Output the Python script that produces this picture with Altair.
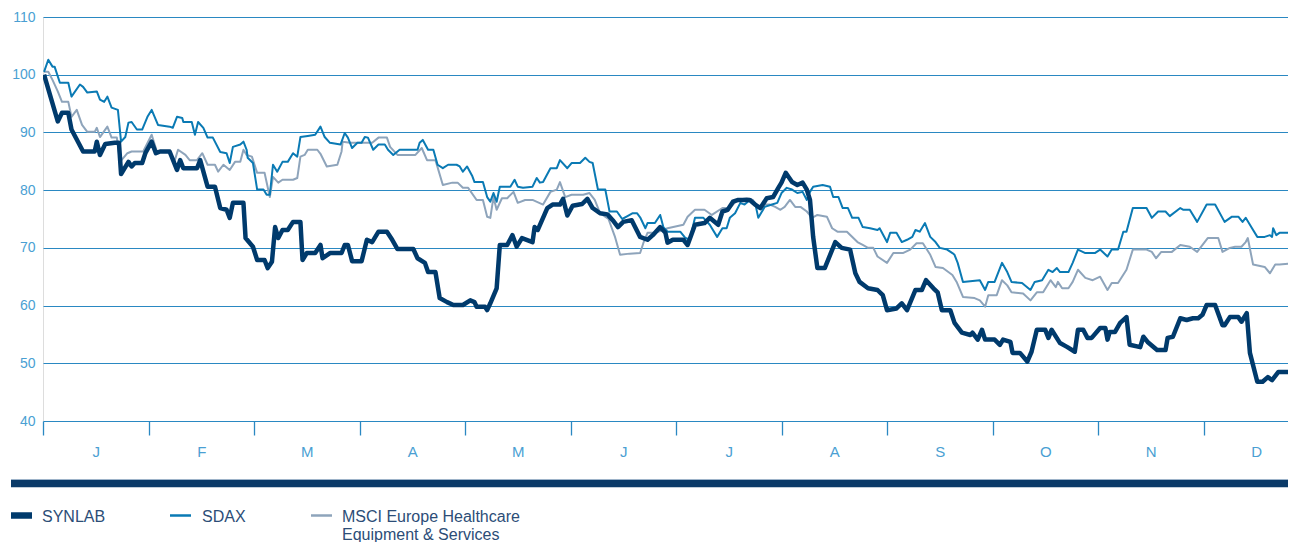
import altair as alt
import pandas as pd

# ---- data (x = position in months from 1 Jan, y = indexed value) ----
MONTHS = ["J", "F", "M", "A", "M", "J", "J", "A", "S", "O", "N", "D"]
SERIES = ["SYNLAB", "SDAX", "MSCI Europe Healthcare Equipment & Services"]

SYNLAB_T = [0.01, 0.14, 0.18, 0.24, 0.27, 0.38, 0.49, 0.51, 0.54, 0.59, 0.68, 0.72, 0.74, 0.81, 0.84, 0.87,
            0.94, 0.97, 1.03, 1.07, 1.11, 1.20, 1.27, 1.30, 1.33, 1.46, 1.49, 1.56, 1.63, 1.68, 1.74, 1.77,
            1.80, 1.90, 1.92, 1.99, 2.03, 2.10, 2.13, 2.17, 2.20, 2.23, 2.27, 2.32, 2.37, 2.44, 2.46, 2.50,
            2.58, 2.63, 2.65, 2.72, 2.83, 2.86, 2.89, 2.93, 3.02, 3.07, 3.12, 3.18, 3.26, 3.31, 3.36, 3.51,
            3.55, 3.62, 3.65, 3.72, 3.76, 3.83, 3.89, 3.98, 4.05, 4.09, 4.11, 4.19, 4.21, 4.24, 4.30, 4.33,
            4.40, 4.45, 4.49, 4.54, 4.64, 4.66, 4.69, 4.78, 4.83, 4.90, 4.93, 4.97, 5.02, 5.11, 5.16, 5.21,
            5.28, 5.35, 5.40, 5.45, 5.50, 5.58, 5.66, 5.73, 5.78, 5.85, 5.90, 5.92, 5.97, 6.07, 6.11, 6.18,
            6.27, 6.32, 6.40, 6.44, 6.49, 6.54, 6.59, 6.70, 6.75, 6.80, 6.86, 6.92, 6.97, 7.00, 7.04, 7.10,
            7.15, 7.20, 7.24, 7.27, 7.30, 7.34, 7.41, 7.51, 7.57, 7.65, 7.70, 7.74, 7.82, 7.91, 7.96, 8.00,
            8.09, 8.14, 8.19, 8.27, 8.33, 8.37, 8.44, 8.48, 8.52, 8.60, 8.64, 8.71, 8.79, 8.81, 8.86, 8.90,
            8.93, 9.02, 9.07, 9.10, 9.17, 9.19, 9.26, 9.33, 9.37, 9.42, 9.50, 9.53, 9.56, 9.64, 9.71, 9.78,
            9.81, 9.86, 9.90, 9.94, 10.02, 10.07, 10.09, 10.11, 10.16, 10.21, 10.27, 10.30, 10.40, 10.43,
            10.47, 10.56, 10.64, 10.66, 10.71, 10.78, 10.84, 10.90, 10.95, 10.99, 11.03, 11.11, 11.18,
            11.20, 11.25, 11.33, 11.36, 11.41, 11.44, 11.51, 11.56, 11.61, 11.65, 11.71, 11.85, 11.88]
SYNLAB_V = [100.0, 91.9, 93.4, 93.4, 90.5, 86.7, 86.7, 88.4, 86.1, 88.0, 88.2, 88.2, 82.8, 84.9, 84.1, 84.7,
            84.7, 86.4, 88.4, 86.4, 86.7, 86.7, 83.5, 85.2, 83.8, 83.8, 85.2, 80.6, 80.6, 76.9, 76.6, 75.2,
            77.8, 77.8, 71.7, 70.2, 67.9, 67.9, 66.5, 67.6, 73.6, 71.7, 73.1, 73.1, 74.5, 74.5, 67.9, 69.1,
            69.1, 70.5, 68.2, 69.1, 69.1, 70.5, 70.5, 67.7, 67.7, 71.4, 71.0, 72.8, 72.8, 71.4, 69.8, 69.8,
            68.2, 67.4, 65.8, 65.8, 61.3, 60.6, 60.1, 60.1, 60.9, 60.6, 59.8, 59.8, 59.2, 60.4, 63.0, 70.5,
            70.5, 72.2, 70.2, 71.7, 71.0, 73.6, 73.1, 76.9, 77.5, 77.5, 78.5, 75.6, 77.3, 77.6, 78.5, 76.9,
            76.0, 75.8, 74.8, 73.6, 74.5, 74.8, 71.9, 71.4, 72.2, 73.6, 72.6, 70.9, 71.4, 71.4, 70.5, 74.0,
            74.3, 75.2, 74.0, 76.3, 76.6, 78.0, 78.3, 78.3, 77.5, 76.9, 78.6, 78.8, 80.4, 81.3, 83.0, 81.4,
            80.9, 81.3, 80.1, 78.3, 71.9, 66.5, 66.5, 71.0, 70.0, 69.7, 65.6, 64.1, 63.0, 62.7, 61.8, 59.2,
            59.5, 60.4, 59.2, 62.7, 62.7, 64.4, 63.0, 62.3, 59.2, 59.2, 57.0, 55.3, 54.9, 55.3, 54.1, 55.8,
            54.1, 54.1, 53.2, 54.1, 53.7, 51.8, 51.8, 50.3, 52.0, 55.8, 55.8, 54.4, 55.8, 53.5, 52.8, 52.0,
            55.8, 55.8, 54.4, 54.4, 56.1, 56.1, 54.1, 55.4, 55.4, 57.0, 58.0, 53.2, 52.8, 54.6,
            53.7, 52.3, 52.3, 54.4, 54.6, 57.8, 57.5, 57.8, 57.8, 58.4, 60.1, 60.1, 56.6,
            56.6, 58.0, 58.0, 57.2, 58.7, 51.8, 46.8, 46.8, 47.6, 47.1, 48.5, 48.5, 47.6]

SDAX_T = [0.01, 0.05, 0.09, 0.11, 0.16, 0.24, 0.27, 0.35, 0.38, 0.42, 0.51, 0.54, 0.58, 0.61, 0.65, 0.71,
          0.74, 0.78, 0.81, 0.84, 0.89, 0.94, 0.99, 1.03, 1.09, 1.20, 1.23, 1.27, 1.32, 1.33, 1.41, 1.44,
          1.47, 1.52, 1.56, 1.61, 1.68, 1.74, 1.77, 1.80, 1.87, 1.90, 1.93, 1.94, 1.99, 2.03, 2.09, 2.12,
          2.15, 2.18, 2.22, 2.27, 2.32, 2.37, 2.41, 2.44, 2.51, 2.58, 2.63, 2.67, 2.72, 2.82, 2.86, 2.89,
          2.93, 2.98, 3.02, 3.05, 3.08, 3.13, 3.18, 3.24, 3.27, 3.32, 3.38, 3.55, 3.57, 3.60, 3.65, 3.70,
          3.74, 3.79, 3.84, 3.92, 3.95, 3.98, 4.02, 4.07, 4.09, 4.17, 4.21, 4.24, 4.27, 4.30, 4.33, 4.43,
          4.47, 4.50, 4.55, 4.64, 4.68, 4.71, 4.74, 4.81, 4.87, 4.90, 4.97, 5.01, 5.09, 5.14, 5.18, 5.21,
          5.26, 5.33, 5.37, 5.44, 5.49, 5.54, 5.59, 5.63, 5.66, 5.71, 5.73, 5.80, 5.85, 5.88, 5.92, 6.04,
          6.09, 6.13, 6.18, 6.26, 6.32, 6.39, 6.44, 6.48, 6.51, 6.56, 6.61, 6.65, 6.70, 6.75, 6.78, 6.84,
          6.91, 6.96, 7.00, 7.05, 7.10, 7.15, 7.20, 7.24, 7.27, 7.30, 7.39, 7.46, 7.49, 7.54, 7.58, 7.63,
          7.67, 7.73, 7.77, 7.84, 7.91, 7.93, 8.00, 8.03, 8.09, 8.14, 8.19, 8.24, 8.27, 8.31, 8.36, 8.41,
          8.46, 8.50, 8.57, 8.62, 8.64, 8.67, 8.72, 8.88, 8.93, 8.96, 9.02, 9.09, 9.14, 9.18, 9.28, 9.36,
          9.40, 9.47, 9.53, 9.57, 9.61, 9.64, 9.72, 9.76, 9.81, 9.88, 9.97, 10.02, 10.09, 10.13, 10.19,
          10.24, 10.27, 10.33, 10.46, 10.51, 10.57, 10.64, 10.68, 10.78, 10.81, 10.87, 10.94, 11.03,
          11.11, 11.20, 11.27, 11.33, 11.37, 11.40, 11.46, 11.51, 11.58, 11.63, 11.65, 11.66, 11.69,
          11.72, 11.88]
SDAX_V = [100.5, 102.6, 101.4, 101.4, 98.6, 98.6, 96.2, 98.3, 97.9, 96.9, 97.1, 95.7, 95.3, 96.2, 94.3, 93.9,
          88.4, 89.2, 91.7, 91.8, 90.5, 90.5, 92.7, 93.9, 91.3, 91.0, 90.8, 92.7, 92.5, 91.8, 91.8, 89.6,
          91.8, 90.8, 89.1, 89.1, 86.6, 86.4, 84.7, 87.5, 87.9, 88.4, 87.0, 85.6, 84.7, 80.1, 80.1, 79.2,
          79.2, 84.4, 83.2, 84.9, 84.9, 86.4, 85.8, 89.2, 89.4, 89.6, 91.0, 89.2, 88.2, 87.9, 89.9, 89.1,
          87.3, 88.2, 88.2, 89.2, 89.1, 87.0, 87.9, 87.9, 87.0, 86.1, 87.0, 87.0, 88.2, 88.7, 87.0, 87.0,
          84.4, 83.8, 84.4, 84.4, 84.1, 83.2, 84.1, 82.4, 81.4, 81.4, 78.8, 78.0, 79.5, 78.0, 80.6, 80.6,
          81.8, 80.6, 80.4, 80.6, 82.1, 81.3, 81.4, 83.8, 83.8, 85.2, 83.8, 84.7, 84.7, 85.6, 84.9, 84.7,
          80.1, 80.1, 76.3, 76.3, 75.0, 75.5, 76.0, 76.0, 75.3, 73.4, 74.3, 74.3, 75.7, 73.6, 72.8, 72.8,
          71.7, 71.4, 75.2, 75.2, 74.0, 71.9, 73.4, 73.4, 75.2, 76.0, 77.8, 77.5, 78.3, 77.8, 75.2, 77.1,
          77.5, 77.8, 79.5, 80.4, 80.1, 79.5, 79.7, 78.3, 79.7, 80.6, 80.9, 80.6, 78.8, 78.8, 76.9, 76.9,
          75.2, 75.2, 73.6, 73.4, 73.1, 73.4, 71.0, 72.6, 72.6, 71.0, 71.4, 71.9, 73.1, 72.8, 74.3, 71.9,
          71.0, 70.0, 69.7, 69.1, 68.8, 67.4, 64.1, 64.4, 62.7, 64.1, 64.1, 67.4, 65.8, 64.1, 63.9, 62.7,
          64.1, 64.4, 66.2, 65.8, 66.5, 65.8, 65.8, 67.4, 69.7, 69.1, 69.1, 69.7, 68.5, 69.7, 69.7,
          72.8, 72.8, 76.9, 76.9, 75.2, 76.3, 76.3, 75.5, 76.9, 76.6, 76.6, 74.5, 77.5,
          77.5, 74.5, 75.4, 75.4, 74.5, 75.2, 73.4, 71.9, 71.9, 72.2, 71.9, 73.4, 72.2,
          72.6, 72.6]

MSCI_T = [0.01, 0.05, 0.09, 0.14, 0.18, 0.24, 0.27, 0.32, 0.37, 0.42, 0.49, 0.51, 0.54, 0.61, 0.65, 0.70,
          0.73, 0.80, 0.84, 0.95, 1.03, 1.08, 1.18, 1.25, 1.28, 1.35, 1.39, 1.46, 1.51, 1.56, 1.63, 1.66,
          1.71, 1.77, 1.82, 1.87, 1.90, 1.93, 1.98, 2.03, 2.10, 2.15, 2.18, 2.23, 2.27, 2.37, 2.41, 2.44,
          2.48, 2.51, 2.60, 2.63, 2.69, 2.79, 2.83, 2.84, 2.91, 3.12, 3.18, 3.26, 3.29, 3.36, 3.53, 3.59,
          3.64, 3.72, 3.79, 3.88, 3.93, 3.98, 4.03, 4.11, 4.17, 4.21, 4.24, 4.27, 4.30, 4.35, 4.40, 4.46,
          4.50, 4.57, 4.64, 4.74, 4.81, 4.87, 4.90, 4.95, 5.01, 5.12, 5.18, 5.23, 5.28, 5.36, 5.42, 5.47,
          5.56, 5.66, 5.69, 5.73, 5.80, 5.88, 5.92, 6.07, 6.11, 6.18, 6.27, 6.34, 6.44, 6.51, 6.58, 6.67,
          6.73, 6.78, 6.82, 6.89, 6.94, 6.99, 7.03, 7.08, 7.13, 7.18, 7.24, 7.29, 7.34, 7.43, 7.48, 7.53,
          7.62, 7.72, 7.77, 7.82, 7.87, 7.91, 8.00, 8.06, 8.15, 8.22, 8.28, 8.34, 8.41, 8.46, 8.53, 8.62,
          8.66, 8.72, 8.83, 8.88, 8.93, 8.96, 9.04, 9.09, 9.14, 9.18, 9.29, 9.36, 9.42, 9.48, 9.55, 9.60,
          9.62, 9.66, 9.72, 9.76, 9.81, 9.88, 9.95, 10.02, 10.09, 10.13, 10.19, 10.27, 10.33, 10.46,
          10.51, 10.55, 10.60, 10.70, 10.78, 10.87, 10.94, 11.04, 11.14, 11.18, 11.25, 11.30, 11.36,
          11.40, 11.42, 11.47, 11.58, 11.63, 11.68, 11.72, 11.88]
MSCI_V = [100.5, 100.5, 99.1, 97.1, 95.3, 95.3, 92.7, 93.9, 91.3, 90.1, 90.1, 90.8, 89.2, 91.0, 89.1, 89.1,
          84.9, 86.4, 86.7, 86.7, 89.6, 86.7, 86.7, 85.2, 87.0, 86.1, 85.2, 85.2, 86.4, 84.4, 84.4, 83.2,
          84.4, 83.5, 84.9, 84.9, 87.0, 86.1, 85.8, 83.0, 83.0, 78.8, 82.3, 81.3, 81.8, 81.8, 82.1, 85.8,
          86.1, 87.0, 87.0, 86.3, 84.1, 84.4, 86.7, 88.4, 88.2, 88.2, 89.1, 89.1, 87.5, 86.1, 86.1, 87.3,
          85.2, 85.2, 80.9, 81.3, 81.3, 80.4, 80.4, 78.3, 78.3, 75.4, 75.2, 78.8, 76.6, 78.6, 78.6, 79.7,
          77.8, 78.3, 78.3, 77.5, 79.7, 80.1, 81.4, 78.8, 79.2, 79.2, 79.5, 78.3, 76.0, 75.0, 72.0, 68.8,
          69.0, 69.1, 70.8, 72.6, 72.6, 73.1, 73.4, 74.0, 75.4, 76.6, 76.6, 75.7, 76.9, 76.9, 78.3, 78.6,
          78.3, 76.9, 77.5, 77.5, 77.1, 76.6, 77.1, 78.3, 77.1, 77.1, 76.3, 75.2, 75.7, 75.4, 73.4, 72.8,
          72.8, 71.0, 70.5, 70.0, 70.0, 68.5, 67.4, 69.1, 69.1, 69.7, 70.8, 70.8, 68.8, 66.7, 66.5, 65.3,
          64.1, 61.5, 61.3, 60.9, 59.8, 61.8, 61.8, 64.4, 63.5, 62.3, 62.1, 60.9, 62.3, 62.3, 64.4, 63.2,
          64.1, 63.0, 63.0, 64.1, 66.2, 64.8, 64.4, 65.0, 62.7, 63.9, 63.9, 66.2, 69.7, 69.7,
          69.3, 68.2, 69.3, 69.3, 70.5, 70.2, 69.3, 71.7, 71.7, 69.3, 70.0, 70.2, 70.2,
          71.0, 71.7, 67.1, 66.7, 65.6, 67.1, 67.1, 67.4]

LEGEND_LABELS = ["SYNLAB", "SDAX", "MSCI Europe Healthcare\nEquipment & Services"]

COLORS = ["#003a6c", "#0a7ab4", "#8ea4bb"]
WIDTHS = [4.5, 2.0, 2.0]

frames = []
for name, ts, vs in [(SERIES[0], SYNLAB_T, SYNLAB_V), (SERIES[1], SDAX_T, SDAX_V), (SERIES[2], MSCI_T, MSCI_V)]:
    frames.append(pd.DataFrame({"series": name, "t": ts, "v": vs}))
df = pd.concat(frames, ignore_index=True)
legend_df = pd.DataFrame({"series": SERIES, "label": LEGEND_LABELS})

FONT = "Liberation Sans"
LABEL_BLUE = "#4a9fd3"
GRID_BLUE = "#2a88c2"
LEGEND_TEXT = "#2c4d77"

PLOT_W = 1245
MONTH_PX = 105.5

month_expr = "[" + ",".join("'%s'" % m for m in MONTHS) + "][datum.value]"

x_enc = alt.X("t:Q",
              scale=alt.Scale(domain=[0, PLOT_W / MONTH_PX], nice=False, zero=False),
              axis=alt.Axis(values=list(range(12)), grid=False, domain=False, ticks=True,
                            tickSize=14, tickColor=GRID_BLUE, tickWidth=1.3,
                            labelExpr=month_expr, labelOffset=MONTH_PX / 2, labelFlush=False,
                            labelPadding=9, labelFontSize=15, labelColor=LABEL_BLUE,
                            labelFont=FONT, title=None))
y_enc = alt.Y("v:Q",
              scale=alt.Scale(domain=[40, 110], nice=False, zero=False),
              axis=alt.Axis(values=list(range(40, 111, 10)), grid=True, gridColor=GRID_BLUE,
                            gridWidth=1.2, gridOpacity=1, domain=False, ticks=False,
                            labelPadding=8, labelFontSize=14, labelColor=LABEL_BLUE,
                            labelFont=FONT, title=None))

base = alt.Chart(df)
line_layers = []
for idx in [2, 1, 0]:
    line_layers.append(
        base.transform_filter(alt.datum.series == SERIES[idx])
        .mark_line(color=COLORS[idx], strokeWidth=WIDTHS[idx], strokeJoin="round", clip=True)
        .encode(x=x_enc, y=y_enc)
    )

one = alt.Chart(legend_df).transform_filter(alt.datum.series == SERIES[0])

# thick band under the axis
band = one.mark_rule(color="#0b3a68", strokeWidth=7.5).encode(
    x=alt.value(-32), x2=alt.value(PLOT_W), y=alt.value(466.5))
band_edge = one.mark_rule(color="#9db3c9", strokeWidth=1).encode(
    x=alt.value(-32), x2=alt.value(PLOT_W), y=alt.value(462.5))

# legend
sw_pos = [(-32, -11), (127, 148), (268, 289)]
txt_pos = [-1, 159, 299]
legend_layers = []
for i in range(3):
    entry = alt.Chart(legend_df).transform_filter(alt.datum.series == SERIES[i])
    legend_layers.append(
        entry.mark_rule(color=COLORS[i], strokeWidth=(6.5 if i == 0 else 2.5)).encode(
            x=alt.value(sw_pos[i][0]), x2=alt.value(sw_pos[i][1]), y=alt.value(498.5)))
    legend_layers.append(
        entry.mark_text(align="left", baseline="alphabetic", fontSize=16, font=FONT,
                        color=LEGEND_TEXT, lineBreak="\n", lineHeight=17.5).encode(
            x=alt.value(txt_pos[i]), y=alt.value(505), text="label:N"))

chart = alt.layer(*line_layers, band, band_edge, *legend_layers).properties(
    width=PLOT_W, height=404,
    autosize=alt.AutoSizeParams(type="none"),
    padding={"left": 35, "top": 9, "right": 0, "bottom": 121},
).configure_view(stroke=None).configure(background="white")

chart.save("out.html", embed_options={"renderer": "svg", "actions": False})
